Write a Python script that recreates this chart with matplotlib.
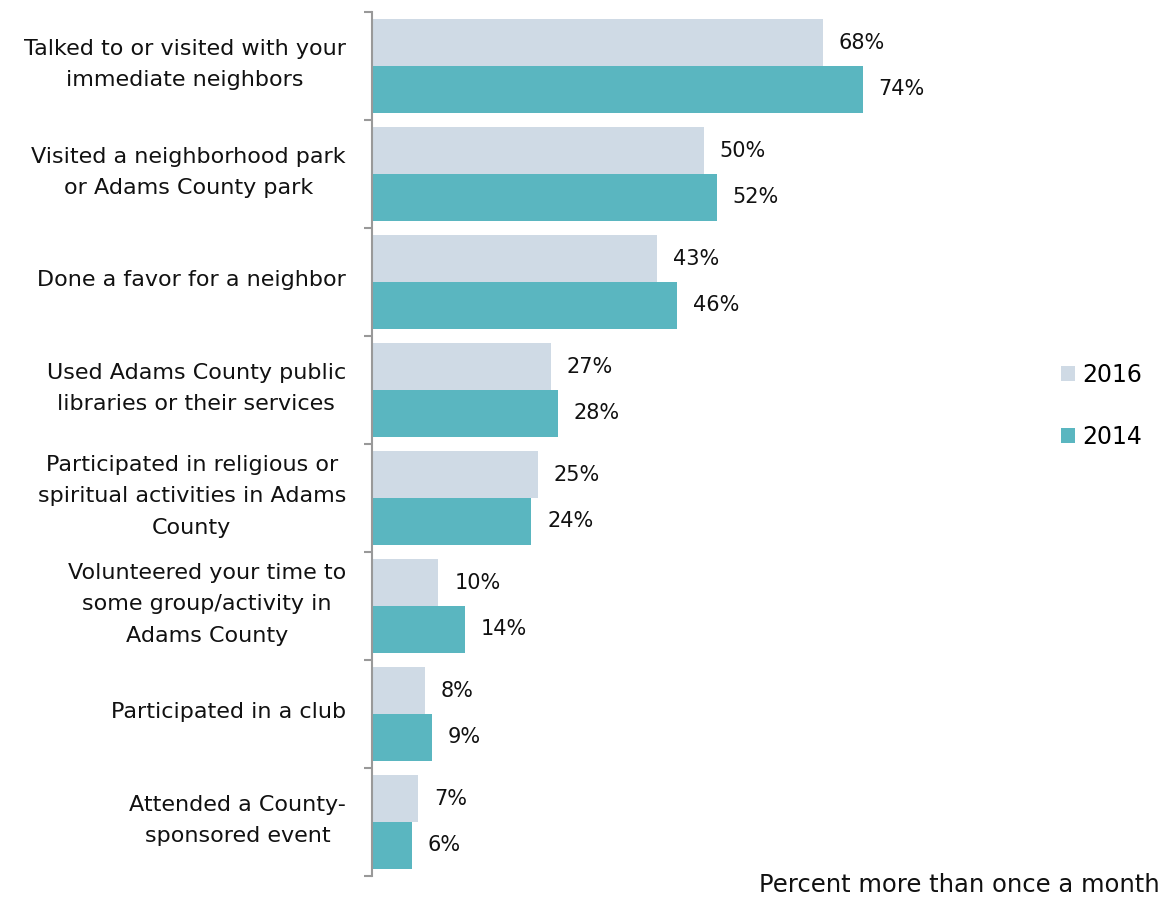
import matplotlib
matplotlib.use("Agg")
import matplotlib.pyplot as plt
from matplotlib.patches import Patch
from matplotlib.transforms import ScaledTranslation
import numpy as np

categories = [
    "Talked to or visited with your\nimmediate neighbors",
    "Visited a neighborhood park\nor Adams County park",
    "Done a favor for a neighbor",
    "Used Adams County public\nlibraries or their services",
    "Participated in religious or\nspiritual activities in Adams\nCounty",
    "Volunteered your time to\nsome group/activity in\nAdams County",
    "Participated in a club",
    "Attended a County-\nsponsored event",
]
v2016 = [68, 50, 43, 27, 25, 10, 8, 7]
v2014 = [74, 52, 46, 28, 24, 14, 9, 6]
series_names = ["2016", "2014"]

c2016 = "#CFDAE5"
c2014 = "#5AB6C0"

plt.rcParams['font.family'] = ['DejaVu Sans']
fig = plt.figure(figsize=(11.66, 8.99), dpi=100)
W, H = 1166, 899
left = 372 / W
xmax = 95
scale = 6.63
right_px = 372 + xmax * scale
ax = fig.add_axes([left, 1 - 876 / H, (right_px - 372) / W, (876 - 12) / H])

y = np.arange(len(categories))
bh = 0.435
b1 = ax.barh(y - bh / 2, v2016, height=bh, color=c2016, label=series_names[0])
b2 = ax.barh(y + bh / 2, v2014, height=bh, color=c2014, label=series_names[1])

for bars, vals in ((b1, v2016), (b2, v2014)):
    for rect, v in zip(bars, vals):
        ax.annotate(f"{v}%", xy=(rect.get_width(), rect.get_y() + rect.get_height() / 2),
                    xytext=(11.5, 0), textcoords="offset points", va="center", ha="left",
                    fontsize=15, color="#111111")

ax.set_xlim(0, xmax)
ax.set_ylim(len(categories) - 0.5, -0.5)
ax.set_yticks(y)
ax.set_yticklabels([])
ax.tick_params(axis="y", which="major", length=0)
label_tr = ax.get_yaxis_transform() + ScaledTranslation(-26 / 100, 1.5 / 100, fig.dpi_scale_trans)
for yi, txt in zip(y, categories):
    ax.text(0, yi, txt, transform=label_tr, ha="right", va="center", fontsize=16,
            linespacing=1.72, multialignment="center", color="#111111")
ax.set_yticks(np.arange(-0.5, len(categories), 1.0), minor=True)
ax.tick_params(axis="y", which="minor", length=6, width=1.5, color="#999999")
ax.set_xticks([])
for s in ("top", "right", "bottom"):
    ax.spines[s].set_visible(False)
ax.spines["left"].set_color("#999999")
ax.spines["left"].set_linewidth(1.5)

handles = [Patch(facecolor=c2016, edgecolor="none"), Patch(facecolor=c2014, edgecolor="none")]
fig.legend(handles, series_names, loc="center left", bbox_to_anchor=(1040 / W, 1 - 406 / H),
           frameon=False, fontsize=17, handlelength=0.6, handleheight=0.6,
           handletextpad=0.3, labelspacing=1.6)

fig.text(1160 / W, 1 - 885 / H, "Percent more than once a month", ha="right", va="center",
         fontsize=17.5, color="#111111")

fig.savefig("out.png", dpi=100)
